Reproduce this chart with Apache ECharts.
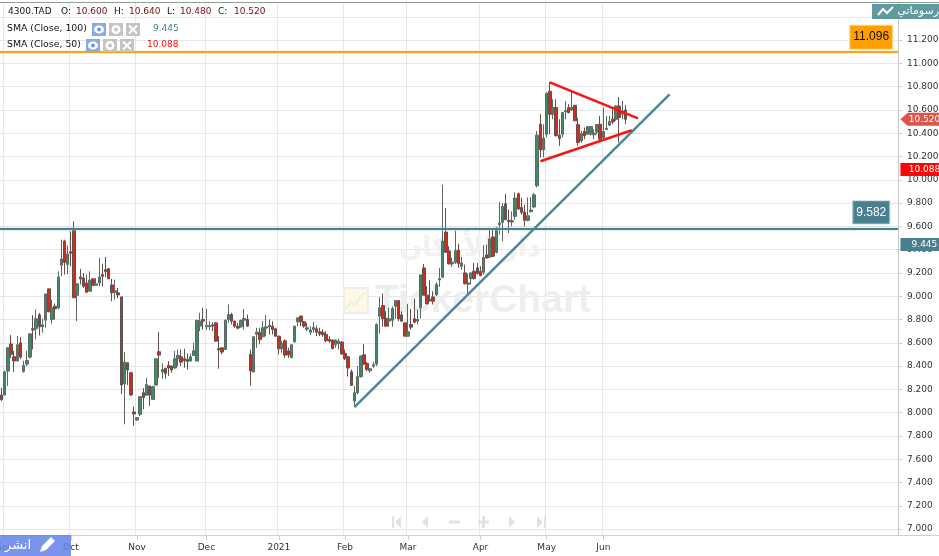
<!DOCTYPE html>
<html><head><meta charset="utf-8">
<style>html,body{margin:0;padding:0;background:#fff}#c{width:939px;height:556px}</style>
<script src="https://cdn.jsdelivr.net/npm/echarts@6/dist/echarts.min.js"></script>
</head><body><div id="c"></div>
<script>
const opens = [8.151,8.151,8.357,8.59,8.48,8.443,8.6,8.354,8.417,8.477,
8.72,8.72,8.84,8.737,8.794,9.063,8.8,8.914,8.9,9.266,
9.474,9.274,9.38,9.566,9.009,9.166,9.157,9.114,9.043,9.149,
9.094,9.114,9.186,9.229,9.237,9.097,9.034,9.029,8.994,8.246,
8.429,8.343,8.006,7.937,7.986,8.171,8.149,8.229,8.114,8.237,
8.523,8.349,8.38,8.406,8.4,8.383,8.463,8.48,8.463,8.457,
8.443,8.491,8.443,8.743,8.8,8.737,8.737,8.754,8.771,8.551,
8.557,8.543,8.8,8.843,8.786,8.743,8.737,8.794,8.8,8.5,
8.349,8.674,8.686,8.651,8.726,8.749,8.743,8.72,8.657,8.551,
8.617,8.531,8.474,8.609,8.78,8.829,8.78,8.717,8.691,8.714,
8.72,8.694,8.686,8.671,8.629,8.623,8.583,8.594,8.606,8.509,
8.48,8.351,8.1,8.171,8.309,8.497,8.423,8.36,8.4,8.417,
8.829,8.92,8.811,8.786,8.794,8.914,8.963,8.84,8.771,8.657,
8.757,8.806,8.786,8.9,9.243,9.009,8.971,8.994,9.014,9.14,
9.163,9.551,9.389,9.277,9.291,9.397,9.257,9.2,9.103,9.151,
9.214,9.243,9.214,9.206,9.354,9.337,9.509,9.377,9.614,9.634,
9.794,9.651,9.637,9.686,9.88,9.763,9.723,9.651,9.726,9.766,
9.949,10.477,10.257,10.391,10.76,10.563,10.62,10.383,10.391,10.583,
10.62,10.6,10.64,10.474,10.334,10.414,10.391,10.391,10.386,10.411,
10.477,10.363,10.431,10.469,10.52,10.52,10.634,10.563,10.6];
const highs = [8.214,8.36,8.56,8.666,8.53,8.657,8.65,8.446,8.53,8.68,
8.837,8.886,8.857,8.806,9.02,9.063,8.97,8.937,9.214,9.486,
9.486,9.434,9.557,9.643,9.106,9.234,9.2,9.186,9.214,9.157,
9.157,9.329,9.28,9.337,9.24,9.149,9.143,9.071,8.997,8.52,
8.43,8.345,8.051,7.96,8.137,8.21,8.3,8.23,8.23,8.465,
8.694,8.423,8.386,8.443,8.406,8.529,8.543,8.543,8.549,8.509,
8.509,8.6,8.8,8.857,8.9,8.891,8.786,8.777,8.775,8.657,
8.56,8.8,8.929,8.857,8.79,8.771,8.8,8.891,8.843,8.543,
8.655,8.729,8.729,8.786,8.84,8.8,8.786,8.729,8.66,8.614,
8.629,8.557,8.585,8.745,8.815,8.834,8.786,8.771,8.743,8.78,
8.749,8.729,8.714,8.7,8.657,8.629,8.629,8.634,8.614,8.543,
8.486,8.371,8.229,8.4,8.49,8.586,8.434,8.38,8.434,8.766,
8.991,9.023,8.871,8.9,8.914,8.966,8.966,8.871,8.772,8.934,
8.891,8.977,8.886,9.186,9.277,9.086,9.137,9.043,9.12,9.243,
9.957,9.757,9.429,9.329,9.563,9.451,9.337,9.271,9.194,9.202,
9.286,9.286,9.257,9.44,9.443,9.571,9.577,9.594,9.809,9.8,
9.88,9.743,9.729,9.891,9.891,9.843,9.786,9.849,9.849,9.886,
10.42,10.563,10.477,10.75,10.84,10.691,10.691,10.52,10.583,10.677,
10.649,10.763,10.641,10.534,10.42,10.449,10.46,10.46,10.434,10.477,
10.549,10.62,10.549,10.549,10.606,10.64,10.711,10.677,10.64];
const lows = [8.1,8.15,8.23,8.47,8.35,8.44,8.46,8.343,8.4,8.463,
8.543,8.63,8.663,8.686,8.73,8.863,8.766,8.8,8.886,9.171,
9.186,9.19,9.257,8.986,8.786,9.1,9.07,9.03,9.043,9.09,
9.094,9.086,9.083,9.166,9.149,8.957,8.971,8.983,8.157,7.9,
8.237,8.143,7.886,7.93,7.97,8.03,8.149,8.057,8.11,8.23,
8.3,8.291,8.291,8.314,8.343,8.377,8.4,8.4,8.386,8.371,
8.44,8.486,8.443,8.7,8.714,8.709,8.709,8.7,8.61,8.377,
8.5,8.54,8.771,8.757,8.729,8.714,8.729,8.714,8.737,8.234,
8.349,8.557,8.586,8.65,8.657,8.671,8.671,8.65,8.5,8.514,
8.471,8.471,8.466,8.6,8.743,8.743,8.729,8.7,8.666,8.686,
8.657,8.657,8.651,8.606,8.6,8.543,8.557,8.543,8.5,8.451,
8.309,8.229,8.051,8.16,8.3,8.41,8.357,8.343,8.383,8.4,
8.68,8.737,8.737,8.737,8.737,8.806,8.786,8.777,8.656,8.655,
8.714,8.766,8.757,8.809,9.005,8.93,8.955,8.929,9.0,9.08,
9.16,9.375,9.275,9.251,9.277,9.243,9.229,9.1,9.014,9.1,
9.143,9.186,9.171,9.186,9.32,9.329,9.337,9.366,9.529,9.471,
9.655,9.543,9.6,9.657,9.743,9.7,9.6,9.643,9.72,9.757,
9.934,10.191,10.191,10.363,10.391,10.52,10.375,10.291,10.363,10.52,
10.57,10.591,10.505,10.291,10.32,10.349,10.39,10.38,10.349,10.391,
10.343,10.349,10.43,10.463,10.477,10.506,10.32,10.52,10.48];
const closes = [8.111,8.351,8.557,8.5,8.443,8.583,8.477,8.406,8.449,8.677,
8.71,8.806,8.737,8.754,9.02,8.866,8.9,8.891,9.166,9.32,
9.29,9.363,9.37,8.986,9.106,9.149,9.086,9.034,9.137,9.094,
9.106,9.166,9.171,9.211,9.149,9.029,9.046,9.011,8.237,8.434,
8.366,8.151,7.989,7.957,8.137,8.129,8.24,8.151,8.223,8.463,
8.494,8.371,8.337,8.383,8.366,8.463,8.491,8.434,8.446,8.44,
8.48,8.531,8.791,8.786,8.786,8.749,8.749,8.743,8.614,8.54,
8.52,8.794,8.843,8.786,8.743,8.726,8.791,8.809,8.743,8.357,
8.651,8.691,8.629,8.729,8.737,8.737,8.714,8.657,8.549,8.594,
8.494,8.494,8.583,8.743,8.814,8.78,8.743,8.729,8.709,8.731,
8.691,8.677,8.669,8.617,8.614,8.551,8.623,8.614,8.503,8.463,
8.383,8.234,8.171,8.309,8.486,8.417,8.371,8.377,8.411,8.757,
8.9,8.806,8.743,8.806,8.894,8.963,8.806,8.786,8.657,8.694,
8.734,8.777,8.8,9.183,9.009,8.934,8.96,8.957,9.1,9.151,
9.474,9.377,9.277,9.291,9.391,9.28,9.286,9.109,9.114,9.2,
9.151,9.194,9.177,9.331,9.329,9.491,9.343,9.586,9.629,9.771,
9.657,9.64,9.649,9.843,9.749,9.72,9.651,9.691,9.74,9.871,
10.383,10.257,10.357,10.743,10.563,10.62,10.377,10.354,10.577,10.594,
10.577,10.62,10.506,10.32,10.397,10.377,10.457,10.457,10.4,10.474,
10.349,10.414,10.443,10.5,10.497,10.634,10.534,10.591,10.52];
const barCount = 285;
const monthNames = ['Sep','Oct','Nov','Dec','2021','Feb','Mar','Apr','May','Jun'];
const monthBars = [1,22,43,65,88,109,129,152,173,191];
const priceMin = 6.949, priceMax = 11.527;
const levelOrange = 11.096, levelTeal = 9.582, sma100 = 9.445, sma50 = 10.088, lastClose = 10.52;
const trendTeal = [[112,8.047],[212,10.734]];
const trendRedUpper = [[174,10.837],[202,10.528]];
const trendRedLower = [[171,10.159],[200,10.425]];
const legendQuote = [['4300.TAD',8,'#111'],['O:',61,'#111'],['10.600',76,'#7a0a0a'],['H:',114,'#111'],['10.640',129,'#7a0a0a'],['L:',167,'#111'],['10.480',180,'#7a0a0a'],['C:',218,'#111'],['10.520',234,'#7a0a0a']];

const FONT = '"DejaVu Sans"';
const categories = Array.from({length: barCount}, (_, i) => {
  const m = monthBars.indexOf(i); return m >= 0 ? monthNames[m] : '';
});
const isMonth = i => monthBars.includes(i);
const candleData = opens.map((o, i) => [o, closes[i], lows[i], highs[i]]);

function txt(text, x, y, fill, size, extra) {
  return Object.assign({type:'text', z:50, silent:true, style:Object.assign({text, x, y, fill,
    font:(size||9)+'px '+FONT, textVerticalAlign:'middle'}, extra||{})});
}
function iconSet(x, y, h) {
  const g = [];
  const w = h + 1, gap = 4;
  g.push({type:'rect',z:50,shape:{x,y,width:w,height:h},style:{fill:'#8aa9e6'}});
  const cx = x+w/2, cy = y+h/2;
  g.push({type:'ellipse',z:51,shape:{cx,cy,rx:5,ry:4},style:{fill:'#fff'}});
  g.push({type:'circle',z:52,shape:{cx,cy,r:2},style:{fill:'#6f93de'}});
  const x2 = x+w+gap-1;
  g.push({type:'rect',z:50,shape:{x:x2,y,width:w,height:h},style:{fill:'#c4c4c4'}});
  g.push({type:'ring',z:51,shape:{cx:x2+w/2,cy,r:4.5,r0:2},style:{fill:'#fff'}});
  const x3 = x2+w+gap-1;
  g.push({type:'rect',z:50,shape:{x:x3,y,width:w,height:h},style:{fill:'#c4c4c4'}});
  g.push({type:'line',z:51,shape:{x1:x3+3,y1:y+2.5,x2:x3+w-3,y2:y+h-2.5},style:{stroke:'#fff',lineWidth:2}});
  g.push({type:'line',z:51,shape:{x1:x3+w-3,y1:y+2.5,x2:x3+3,y2:y+h-2.5},style:{stroke:'#fff',lineWidth:2}});
  return g;
}
function poly(points, fill, z) { return {type:'polygon',z:z||1,silent:true,shape:{points},style:{fill}}; }
const navY = 522, navC = '#e2e2e2';
const graphics = [
  {type:'rect',z:3,shape:{x:0,y:2,width:939,height:1},style:{fill:'#8f9f8f'}},
  {type:'rect',z:3,shape:{x:898,y:535,width:41,height:1},style:{fill:'#cfcfcf'}},
  {type:'rect',z:1,shape:{x:344,y:288,width:24,height:25},style:{fill:'#fdf9e6',stroke:'#eeeeee',lineWidth:2}},
  {type:'polyline',z:1,shape:{points:[[346,309],[351,302],[355,305],[360,297],[366,292]]},style:{stroke:'#efeee2',lineWidth:2,fill:null}},
  {type:'text',z:1,silent:true,style:{text:'TickerChart',x:375,y:301,fill:'#eeeeee',font:'bold 39px "Liberation Sans"',textVerticalAlign:'middle'}},
  {type:'text',z:1,silent:true,style:{text:'دار الأركان',x:470,y:249,fill:'#f1f1f1',font:'bold 27px "DejaVu Sans"',textAlign:'center',textVerticalAlign:'middle'}},
  {type:'rect',z:1,shape:{x:392,y:navY-6,width:2,height:12},style:{fill:navC}},
  poly([[395,navY],[401,navY-6],[401,navY+6]],navC),
  poly([[422,navY],[428,navY-6],[428,navY+6]],navC),
  {type:'rect',z:1,shape:{x:449,y:navY-1.5,width:11,height:3},style:{fill:navC}},
  {type:'rect',z:1,shape:{x:478,y:navY-1.5,width:11,height:3},style:{fill:navC}},
  {type:'rect',z:1,shape:{x:482,y:navY-6,width:3,height:12},style:{fill:navC}},
  poly([[515,navY],[509,navY-6],[509,navY+6]],navC),
  poly([[543,navY],[537,navY-6],[537,navY+6]],navC),
  {type:'rect',z:1,shape:{x:544,y:navY-6,width:2,height:12},style:{fill:navC}},
  ...legendQuote.map(r => txt(r[0], r[1], 12, r[2])),
  txt('SMA (Close, 100)', 7, 29, '#111', 9.35),
  ...iconSet(92, 23, 13),
  txt('9.445', 153, 29, '#4a7f8c'),
  txt('SMA (Close, 50)', 7, 45, '#111', 9.35),
  ...iconSet(86, 39, 13),
  txt('10.088', 147, 45, '#f01010'),
  {type:'rect',z:60,shape:{x:872,y:4,width:67,height:15},style:{fill:'#5f9a9e'}},
  {type:'polyline',z:61,shape:{points:[[878,15],[883,9],[887,13],[893,7]]},style:{stroke:'#fff',lineWidth:2,fill:null}},
  {type:'text',z:61,silent:true,style:{text:'رسوماتي',x:939,y:11,fill:'#fff',font:'11px "DejaVu Sans"',textAlign:'right',textVerticalAlign:'middle'}},
  {type:'rect',z:60,shape:{x:0,y:535,width:71,height:21},style:{fill:'rgba(98,130,232,0.85)'}},
  poly([[40,552],[42,546],[51,537],[55,541],[46,550]],'#fff',61),
  {type:'text',z:61,silent:true,style:{text:'انشر',x:18,y:546,fill:'#fff',font:'13px "DejaVu Sans"',textAlign:'center',textVerticalAlign:'middle'}}
];

const arrowSym = 'path://M0 6.5 L7 0 L39 0 L39 13 L7 13 Z';
const priceTag = (value, bg, sym, labelOffset) => ({
  coord:[barCount-1, value], value, symbol:sym, symbolSize:[40,13], symbolOffset:[24,0],
  itemStyle:{color:bg},
  label:{show:true, position:'inside', formatter:value.toFixed(3), color:'#fff', fontFamily:FONT, fontSize:9, offset:labelOffset}
});
const badge = (value, bg, bc, tc, w, h, xIdx, off) => ({
  coord:[xIdx, value], value, symbol:'rect', symbolSize:[w,h], symbolOffset:[0,off],
  itemStyle:{color:bg, borderColor:bc, borderWidth:1},
  label:{show:true, position:'inside', formatter:value.toFixed(3), color:tc, fontFamily:'"Liberation Sans"', fontSize:12}
});
const seg = (pts, color, width) => [
  {coord:pts[0], lineStyle:{color, width, type:'solid'}},
  {coord:pts[1]}
];

const chart = echarts.init(document.getElementById('c'), null, {renderer:'canvas'});
chart.setOption({
  animation:false,
  backgroundColor:'#fff',
  grid:{left:0, right:41, top:2, height:533, containLabel:false, outerBoundsMode:'none'},
  xAxis:{
    type:'category', data:categories, boundaryGap:true,
    axisLine:{show:true, lineStyle:{color:'#cfcfcf', width:1}},
    axisTick:{show:true, alignWithLabel:true, length:5, interval:i=>isMonth(i), lineStyle:{color:'#cfcfcf'}},
    axisLabel:{show:true, interval:i=>isMonth(i), color:'#333', fontFamily:FONT, fontSize:9, margin:8, hideOverlap:false},
    splitLine:{show:true, interval:i=>isMonth(i), lineStyle:{color:'#e6e6e6', width:1}}
  },
  yAxis:{
    type:'value', position:'right', min:priceMin, max:priceMax, splitNumber:23, scale:true,
    axisLine:{show:true, lineStyle:{color:'#c6c6c6', width:1}},
    axisTick:{show:true, length:4, lineStyle:{color:'#cfcfcf'}},
    axisLabel:{show:true, color:'#333', fontFamily:FONT, fontSize:9, margin:9, align:'left', padding:[2,0,0,0],
      showMinLabel:false, showMaxLabel:false, formatter:v=>v.toFixed(3)},
    splitLine:{show:true, showMinLine:false, showMaxLine:false, lineStyle:{color:'#e6e6e6', width:1}}
  },
  graphic:graphics,
  series:[{
    type:'candlestick', data:candleData, barWidth:3, clip:true, z:5,
    itemStyle:{color:'#3f8a68', color0:'#d42a1c', borderColor:'#5a6a62', borderColor0:'#63504c', borderWidth:1},
    markLine:{
      silent:true, symbol:'none', animation:false, z:6, precision:3, label:{show:false},
      data:[
        {yAxis:levelOrange, lineStyle:{color:'#f6a31e', width:2, type:'solid', shadowColor:'#ffd98f', shadowBlur:2}},
        {yAxis:levelTeal, lineStyle:{color:'#4a7f8c', width:2, type:'solid', shadowColor:'#a9cfd6', shadowBlur:2}},
        seg(trendTeal,'#4e8896',2.5),
        seg(trendRedUpper,'#f91414',2.5),
        seg(trendRedLower,'#f91414',2.5)
      ]
    },
    markPoint:{
      silent:true, animation:false, z:20,
      data:[
        badge(levelOrange,'#ffa000','#ffd890','#111',43,24,276,-15),
        badge(levelTeal,'#4a7f8f','#a9c6cf','#fff',37,23,276,-16),
        priceTag(lastClose,'#d9574a',arrowSym,[4,0]),
        priceTag(sma50,'#fb0606','rect',[4,0]),
        priceTag(sma100,'#4a7f8f','rect',[4,0])
      ]
    }
  }]
});
</script></body></html>
